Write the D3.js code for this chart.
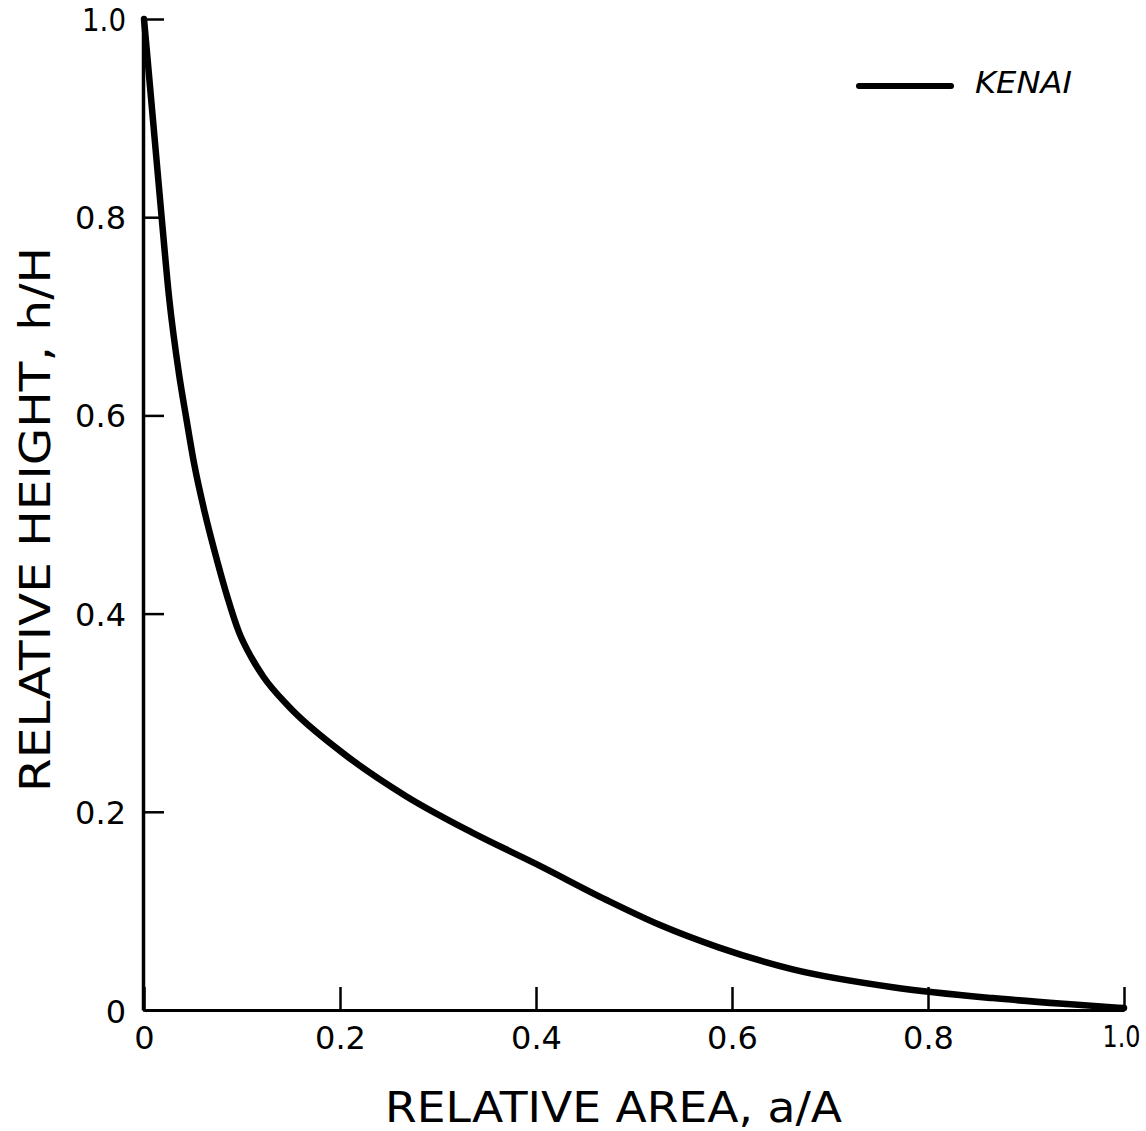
<!DOCTYPE html>
<html>
<head>
<meta charset="utf-8">
<script src="https://cdn.jsdelivr.net/npm/d3@7"></script>
<style>
  html, body { margin: 0; padding: 0; background: #fff; }
  svg { display: block; }
  text { font-family: "DejaVu Sans", "Liberation Sans", sans-serif; fill: #000; }
</style>
</head>
<body>
<svg id="chart" width="1146" height="1131"></svg>
<script>
// ---- data ----
const relArea   = [0, 0.009, 0.018, 0.0255, 0.036, 0.043, 0.051, 0.062, 0.075, 0.085, 0.097, 0.110, 0.122, 0.148, 0.202, 0.267, 0.335, 0.403, 0.472, 0.526, 0.587, 0.662, 0.764, 0.866, 0.942, 1.0];
const relHeight = [1.0, 0.90, 0.80, 0.72, 0.640, 0.598, 0.552, 0.502, 0.452, 0.417, 0.381, 0.355, 0.336, 0.306, 0.260, 0.216, 0.179, 0.146, 0.111, 0.086, 0.063, 0.041, 0.023, 0.012, 0.006, 0.002];
const xTicks = [0, 0.2, 0.4, 0.6, 0.8, 1.0];
const xTickLabels = ["0", "0.2", "0.4", "0.6", "0.8", "1.0"];
const yTicks = [0, 0.2, 0.4, 0.6, 0.8, 1.0];
const yTickLabels = ["0", "0.2", "0.4", "0.6", "0.8", "1.0"];
const seriesName = "KENAI";
const xTitle = "RELATIVE AREA, a/A";
const yTitle = "RELATIVE HEIGHT, h/H";

const svg = d3.select("#chart");
const x = d3.scaleLinear().domain([0, 1]).range([144, 1124]);
const y = d3.scaleLinear().domain([0, 1]).range([1010, 19]);

// y axis
const yAxis = d3.axisLeft(y)
  .tickValues(yTicks)
  .tickFormat((d, i) => yTickLabels[i])
  .tickSizeInner(-21)
  .tickSizeOuter(0)
  .tickPadding(17);
const gy = svg.append("g").attr("transform", `translate(${x(0) - 1},0)`).call(yAxis);
gy.attr("font-size", null).attr("font-family", null);
gy.select(".domain").attr("stroke", "#000").attr("stroke-width", 3.5);
gy.selectAll(".tick line").attr("stroke", "#000").attr("stroke-width", 2.5);
gy.selectAll(".tick text")
  .attr("font-size", 32)
  .attr("font-family", "'DejaVu Sans', sans-serif")
  .attr("fill", "#000")
  .attr("dy", (d) => d === 0 ? "0.4em" : "0.36em")
  .each(function(d, i) {
    if (yTickLabels[i] === "1.0") d3.select(this).attr("textLength", 44).attr("lengthAdjust", "spacingAndGlyphs");
  });

// x axis
const xAxis = d3.axisBottom(x)
  .tickValues(xTicks)
  .tickFormat((d, i) => xTickLabels[i])
  .tickSizeInner(-23)
  .tickSizeOuter(0)
  .tickPadding(16);
const gx = svg.append("g").attr("transform", `translate(0,${y(0)})`).call(xAxis);
gx.attr("font-size", null).attr("font-family", null);
gx.select(".domain").attr("stroke", "#000").attr("stroke-width", 3);
gx.selectAll(".tick line").attr("stroke", "#000").attr("stroke-width", 2.5);
gx.selectAll(".tick text")
  .attr("font-size", 32)
  .attr("font-family", "'DejaVu Sans', sans-serif")
  .attr("fill", "#000")
  .each(function(d, i) {
    if (xTickLabels[i] === "1.0") d3.select(this)
      .attr("font-size", 30)
      .attr("text-anchor", "end")
      .attr("x", 16)
      .attr("textLength", 38)
      .attr("lengthAdjust", "spacingAndGlyphs");
  });

// curve
const data = relArea.map((a, i) => ({ a, h: relHeight[i] }));
const line = d3.line()
  .x(d => x(d.a))
  .y(d => y(d.h))
  .curve(d3.curveMonotoneX);
svg.append("path")
  .datum(data)
  .attr("d", line)
  .attr("fill", "none")
  .attr("stroke", "#000")
  .attr("stroke-width", 6.5)
  .attr("stroke-linejoin", "round")
  .attr("stroke-linecap", "round");

// legend
svg.append("line")
  .attr("x1", 859).attr("x2", 951)
  .attr("y1", 86).attr("y2", 86)
  .attr("stroke", "#000").attr("stroke-width", 6)
  .attr("stroke-linecap", "round");
svg.append("text")
  .attr("x", 975).attr("y", 93)
  .attr("font-size", 31)
  .attr("font-style", "italic")
  .attr("textLength", 97)
  .attr("lengthAdjust", "spacingAndGlyphs")
  .text(seriesName);

// axis titles
svg.append("text")
  .attr("x", 385).attr("y", 1122)
  .attr("font-size", 42)
  .attr("textLength", 457)
  .attr("lengthAdjust", "spacingAndGlyphs")
  .text(xTitle);

svg.append("text")
  .attr("transform", "translate(50,792) rotate(-90)")
  .attr("x", 0).attr("y", 0)
  .attr("font-size", 42)
  .attr("textLength", 545)
  .attr("lengthAdjust", "spacingAndGlyphs")
  .text(yTitle);
</script>
</body>
</html>
